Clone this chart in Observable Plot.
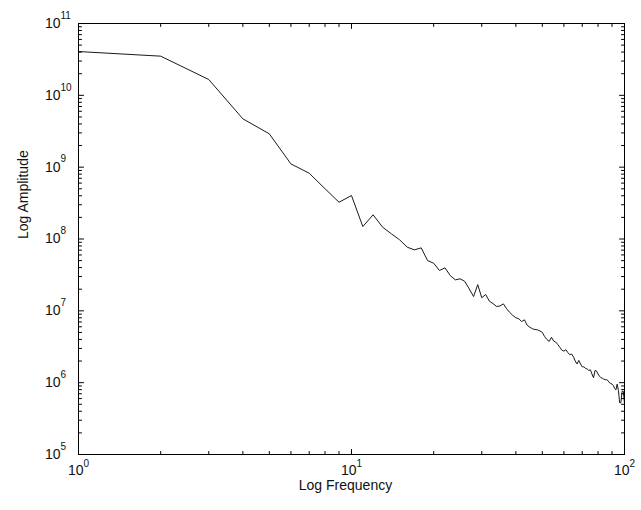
<!DOCTYPE html>
<html>
<head>
<meta charset="utf-8">
<script src="https://cdn.jsdelivr.net/npm/d3@7"></script>
<script src="https://cdn.jsdelivr.net/npm/@observablehq/plot@0.6"></script>
<style>
  html, body { margin: 0; padding: 0; background: #fff; }
  #chart svg { display: block; }
</style>
</head>
<body>
<div id="chart"></div>
<script>
// Frequencies (x)
const frequency = [
  1, 2, 3, 4, 5, 6, 7, 8, 9, 10,
  11, 12, 13, 14, 15, 16, 17, 18, 19, 20,
  21, 22, 23, 24, 25, 26, 27, 28, 29, 30,
  31, 32, 33, 34, 35, 36, 37, 38, 39, 40,
  41, 42, 43, 44, 45, 46, 47, 48, 49, 50,
  51, 52, 53, 54, 55, 56, 57, 58, 59, 60,
  61, 62, 63, 64, 65, 66, 67, 68, 69, 70,
  71, 72, 73, 74, 75, 76, 77, 78, 79, 80,
  81, 82, 83, 84, 85, 86, 87, 88, 89, 90,
  91, 92, 93, 94, 95, 96, 97, 98, 99, 100
];
// Amplitudes (y)
const amplitude = [
  4.07e10, 3.51e10, 1.66e10, 4.71e9, 2.91e9, 1.11e9, 8.24e8, 5.01e8, 3.25e8, 4.03e8,
  1.49e8, 2.17e8, 1.46e8, 1.18e8, 9.75e7, 7.69e7, 7.06e7, 7.53e7, 5.01e7, 4.60e7,
  3.64e7, 3.97e7, 3.10e7, 2.70e7, 2.79e7, 2.57e7, 2.02e7, 1.58e7, 2.32e7, 1.52e7,
  1.69e7, 1.36e7, 1.26e7, 1.15e7, 1.17e7, 1.25e7, 1.07e7, 9.48e6, 8.61e6, 8.00e6,
  7.76e6, 7.08e6, 7.50e6, 6.31e6, 5.92e6, 5.62e6, 5.50e6, 5.43e6, 5.25e6, 5.01e6,
  4.37e6, 3.98e6, 3.76e6, 4.29e6, 3.80e6, 3.67e6, 3.39e6, 3.09e6, 2.82e6, 2.75e6,
  2.88e6, 2.63e6, 2.45e6, 2.51e6, 2.29e6, 2.00e6, 1.82e6, 2.04e6, 1.82e6, 1.66e6,
  1.66e6, 1.58e6, 1.55e6, 1.48e6, 1.51e6, 1.32e6, 1.17e6, 1.48e6, 1.45e6, 1.32e6,
  1.23e6, 1.17e6, 1.15e6, 1.12e6, 1.10e6, 1.10e6, 1.07e6, 1.00e6, 9.77e5, 9.55e5,
  9.12e5, 8.32e5, 7.94e5, 9.55e5, 7.76e5, 5.25e5, 5.25e5, 7.59e5, 7.59e5, 5.13e5
];

// Axis ticks
const xMajorTicks = [1, 10, 100];
const xMajorExponents = ["0", "1", "2"];
const xMinorTicks = [2, 3, 4, 5, 6, 7, 8, 9, 20, 30, 40, 50, 60, 70, 80, 90];
const yMajorTicks = [1e5, 1e6, 1e7, 1e8, 1e9, 1e10, 1e11];
const yMajorExponents = ["5", "6", "7", "8", "9", "10", "11"];
const yMinorTicks = [];
for (const base of [1e5, 1e6, 1e7, 1e8, 1e9, 1e10]) {
  for (const m of [2, 3, 4, 5, 6, 7, 8, 9]) yMinorTicks.push(base * m);
}
const xLabel = "Log Frequency";
const yLabel = "Log Amplitude";

const series = frequency.map((f, i) => ({f, a: amplitude[i]}));

const tickShape = {draw(context, l) { context.moveTo(0, 0); context.lineTo(0, -l); }};
function ticks(data, channel, anchor, rotate, length) {
  const o = {frameAnchor: anchor, rotate, length, anchor: "start", shape: tickShape, stroke: "#000", strokeWidth: 1};
  o[channel] = d => d;
  return Plot.vector(data, o);
}

const font = "'Liberation Sans', Arial, Helvetica, sans-serif";

const chart = Plot.plot({
  width: 641,
  height: 510,
  marginLeft: 78,
  marginRight: 17,
  marginTop: 23,
  marginBottom: 56,
  style: {fontFamily: font, background: "#fff", color: "#000"},
  x: {type: "log", domain: [1, 100], axis: null},
  y: {type: "log", domain: [1e5, 1e11], axis: null},
  marks: [
    Plot.line(series, {x: "f", y: "a", stroke: "#1a1a1a", strokeWidth: 1}),
    // major ticks
    ticks(xMajorTicks, "x", "bottom", 0, 5),
    ticks(xMajorTicks, "x", "top", 180, 5),
    ticks(yMajorTicks, "y", "left", 90, 5),
    ticks(yMajorTicks, "y", "right", -90, 5),
    // minor ticks
    ticks(xMinorTicks, "x", "bottom", 0, 3),
    ticks(xMinorTicks, "x", "top", 180, 3),
    ticks(yMinorTicks, "y", "left", 90, 3),
    ticks(yMinorTicks, "y", "right", -90, 3),
    Plot.frame({stroke: "#000", strokeWidth: 1}),
    // x tick labels: 10^n
    Plot.text(xMajorTicks, {x: d => d, frameAnchor: "bottom", text: () => "10", textAnchor: "end", dx: 5, dy: 20, fontSize: 14, fill: "#111"}),
    Plot.text(xMajorTicks, {x: d => d, frameAnchor: "bottom", text: (d, i) => xMajorExponents[i], textAnchor: "start", dx: 5, dy: 12, fontSize: 10, fill: "#111"}),
    // y tick labels: 10^n
    Plot.text(yMajorTicks, {y: d => d, frameAnchor: "left", text: () => "10", textAnchor: "end", dx: -18, dy: 0, fontSize: 14, fill: "#111"}),
    Plot.text(yMajorTicks, {y: d => d, frameAnchor: "left", text: (d, i) => yMajorExponents[i], textAnchor: "start", dx: -18, dy: -8, fontSize: 10, fill: "#111"}),
    // axis titles
    Plot.text([xLabel], {frameAnchor: "bottom", text: d => d, dx: -6, dy: 35, fontSize: 14, fill: "#111"}),
    Plot.text([yLabel], {frameAnchor: "left", text: d => d, dx: -55, rotate: -90, fontSize: 14, fill: "#111"})
  ]
});

document.getElementById("chart").appendChild(chart);
</script>
</body>
</html>
